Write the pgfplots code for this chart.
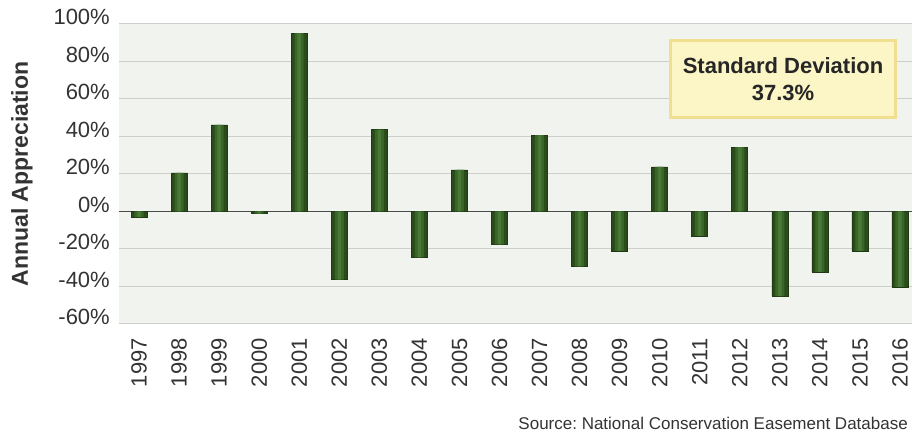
\documentclass[border=0pt]{standalone}
\usepackage{fontspec}
\setmainfont{Liberation Sans}
\usepackage{pgfplots}
\usepackage{pgfplotstable}
\pgfplotsset{compat=1.18}
\frenchspacing
\definecolor{bgc}{HTML}{F1F4EE}
\definecolor{gridc}{HTML}{CDCFCB}
\definecolor{barD}{HTML}{294C1A}
\definecolor{barM}{HTML}{3A6529}
\definecolor{barL}{HTML}{4A7937}
\definecolor{boxF}{HTML}{FCF6C6}
\definecolor{boxB}{HTML}{EFDF8E}
\definecolor{txt}{HTML}{333333}
\pgfplotstableread{
x y
0 -3.0
1 20.6
2 46.2
3 -1.2
4 95.1
5 -36.4
6 43.6
7 -24.5
8 22.2
9 -17.6
10 40.7
11 -29.3
12 -21.0
13 23.8
14 -13.0
15 34.3
16 -45.2
17 -32.2
18 -21.0
19 -40.2
}\datatable
\begin{document}
\begin{tikzpicture}
\begin{axis}[name=ax, scale only axis, width=793pt, height=300pt,
  xmin=-0.5, xmax=19.3, ymin=-60, ymax=100,
  ytick={-60,-40,...,100},
  xtick={0,...,19},
  xticklabels={1997,1998,1999,2000,2001,2002,2003,2004,2005,2006,2007,2008,2009,2010,2011,2012,2013,2014,2015,2016},
  axis background/.style={fill=bgc},
  axis line style={draw=none},
  ymajorgrids, grid style={gridc, line width=1pt},
  extra y ticks={0}, extra y tick labels={},
  extra y tick style={grid style={draw=black!70, line width=1.6pt}},
  major tick length=0pt,
  /pgf/number format/assume math mode=true,
  yticklabel={\pgfmathprintnumber{\tick}\%},
  yticklabel style={anchor=base east, inner sep=0pt, font=\fontsize{22}{24}\selectfont, text=txt, yshift=-1pt},
  yticklabel shift=9pt,
  xticklabel style={rotate=90, anchor=east, inner sep=0pt, font=\fontsize{22}{24}\selectfont, text=txt},
  xticklabel shift=14pt,
  ybar,
  clip=false,
]
\addplot[bar width=16pt, bar shift=0pt, draw=barD!75!black, line width=0.6pt, fill=barD] table[x=x,y=y] {\datatable};
\addplot[bar width=9pt, bar shift=0pt, draw=none, fill=barM] table[x=x,y=y] {\datatable};
\addplot[bar width=3.5pt, bar shift=0pt, draw=none, fill=barL] table[x=x,y=y] {\datatable};
\node[fill=boxF, draw=boxB, line width=2.5pt, minimum width=225pt, minimum height=77pt, align=center,
      font=\bfseries\fontsize{22}{27}\selectfont, text=black!85] at (axis cs:16.08,70.7) {Standard Deviation\\37.3\%};
\end{axis}
\node[rotate=90, font=\bfseries\fontsize{23}{26}\selectfont, text=txt] at ([xshift=-97pt]ax.west) {Annual Appreciation};
\node[anchor=base east, inner sep=0pt, font=\fontsize{17}{18}\selectfont, text=txt] at ([xshift=-4pt, yshift=-105pt]ax.south east) {Source: National Conservation Easement Database};
\pgfresetboundingbox
\path[use as bounding box] ([xshift=-119pt,yshift=-109pt]ax.south west) rectangle ([yshift=24pt]ax.north east);
\end{tikzpicture}
\end{document}
